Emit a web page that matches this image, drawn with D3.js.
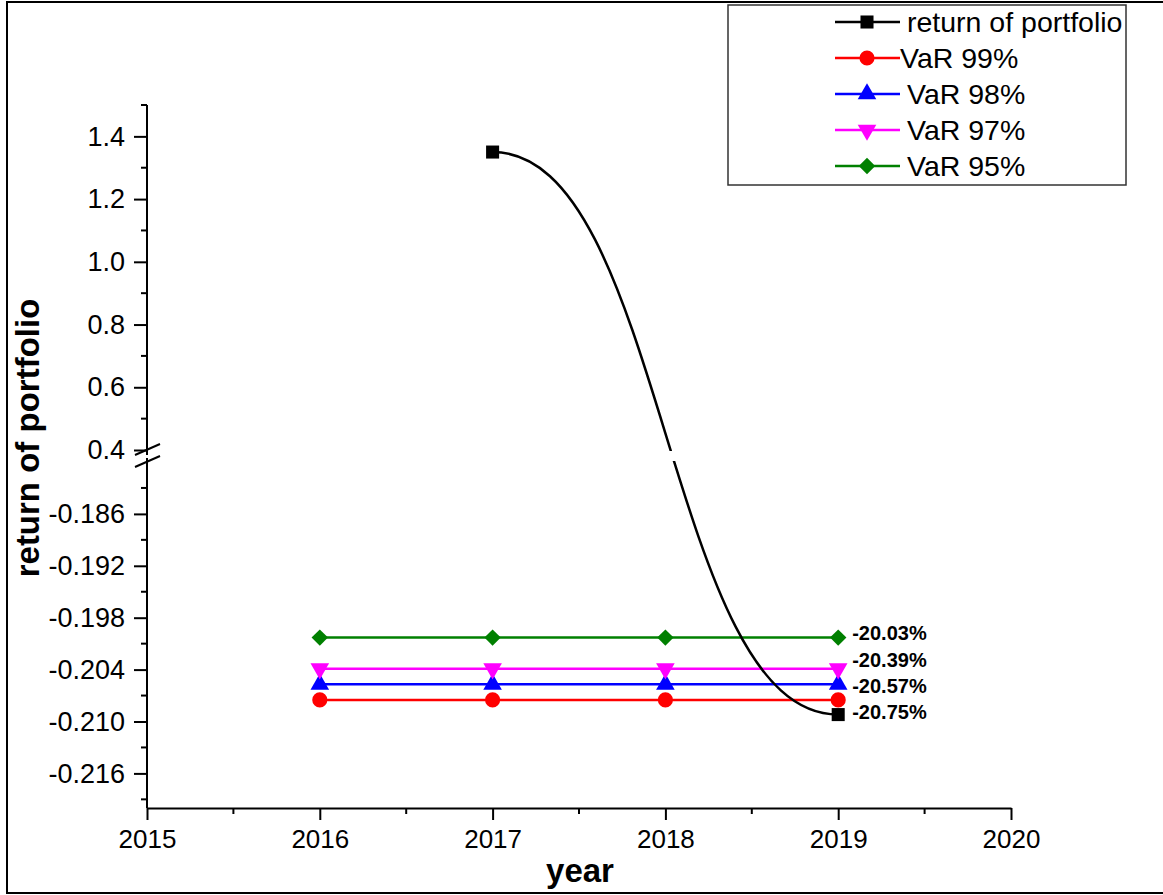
<!DOCTYPE html>
<html>
<head>
<meta charset="utf-8">
<script src="https://cdn.jsdelivr.net/npm/d3@7"></script>
<style>
  html, body { margin: 0; padding: 0; background: #fff; }
  svg { display: block; font-family: Arial, "Liberation Sans", sans-serif; }
</style>
</head>
<body>
<div id="chart"></div>
<script>
// data
const portfolioYears  = [2017, 2019];
const portfolioValues = [1.35, -0.2092];

const varYears  = [2016, 2017, 2018, 2019];
const varLabels = ['VaR 99%', 'VaR 98%', 'VaR 97%', 'VaR 95%'];
const varValues = [-0.2075, -0.2057, -0.2039, -0.2003];

const xTicks      = [2015, 2016, 2017, 2018, 2019, 2020];
const yTopTicks   = [0.4, 0.6, 0.8, 1.0, 1.2, 1.4];
const yTopMinor   = [0.5, 0.7, 0.9, 1.1, 1.3, 1.5];
const yBotTicks   = [-0.216, -0.210, -0.204, -0.198, -0.192, -0.186];
const yBotMinor   = [-0.219, -0.213, -0.207, -0.201, -0.195, -0.189, -0.183];

const width = 1163, height = 895;

const colors  = { portfolio: '#000000', 'VaR 99%': '#ff0000', 'VaR 98%': '#0000ff', 'VaR 97%': '#ff00ff', 'VaR 95%': '#008000' };
const symbols = {
  portfolio: { type: d3.symbolSquare,   size: 170, rot: 0 },
  'VaR 99%': { type: d3.symbolCircle,   size: 180, rot: 0 },
  'VaR 98%': { type: d3.symbolTriangle, size: 150, rot: 0 },
  'VaR 97%': { type: d3.symbolTriangle, size: 150, rot: 180 },
  'VaR 95%': { type: d3.symbolSquare,   size: 135, rot: 45 }
};
// annotation nudges (px) so labels don't collide, same order as varLabels
const labelNudge = [12, 2, -9, -5];

const loc = d3.formatLocale({ decimal: '.', thousands: ',', grouping: [3], currency: ['$', ''], minus: '-' });
const fmtPct = loc.format('.2%');

const svg = d3.select('#chart').append('svg')
  .attr('width', width)
  .attr('height', height);

// outer frame
svg.append('rect')
  .attr('x', 7).attr('y', 2)
  .attr('width', width + 10).attr('height', 891)
  .attr('fill', 'none')
  .attr('stroke', '#000')
  .attr('stroke-width', 2);

const x = d3.scaleLinear().domain([2015, 2020]).range([147, 1011]);
// broken y axis: two segments
const yTop = d3.scaleLinear().domain([0.4, 1.5]).range([450, 105]);
const yBot = d3.scaleLinear().domain([-0.22, -0.18]).range([808, 462]);
const y = d3.scaleLinear().domain([-0.22, -0.18, 0.4, 1.5]).range([808, 462, 450, 105]);

// axes
const axisStyle = (g, fs) => {
  g.selectAll('path, line').attr('stroke', '#000').attr('stroke-width', 2);
  g.selectAll('text').attr('font-size', fs).attr('fill', '#000').attr('font-family', 'Arial, "Liberation Sans", sans-serif');
};

const yTopG = svg.append('g').attr('transform', `translate(${x(2015)},0)`);
yTopG.call(d3.axisLeft(yTop).tickValues(yTopTicks).tickFormat(d3.format('.1f')).tickSize(13).tickPadding(9).tickSizeOuter(0));
yTopG.call(axisStyle, 27);
yTopG.select('.domain').attr('d', `M0,${yTop(1.5)}V455`);

const yBotG = svg.append('g').attr('transform', `translate(${x(2015)},0)`);
yBotG.call(d3.axisLeft(yBot).tickValues(yBotTicks).tickFormat(loc.format('.3f')).tickSize(13).tickPadding(9).tickSizeOuter(0));
yBotG.call(axisStyle, 27);
yBotG.select('.domain').attr('d', `M0,458V${yBot(-0.22)}`);

// minor y ticks
svg.append('g').selectAll('line')
  .data(yTopMinor.map(v => yTop(v)).concat(yBotMinor.map(v => yBot(v))))
  .join('line')
  .attr('x1', x(2015) - 6).attr('x2', x(2015))
  .attr('y1', d => d).attr('y2', d => d)
  .attr('stroke', '#000').attr('stroke-width', 2);

// break marks
svg.append('g').selectAll('line')
  .data([0, 12])
  .join('line')
  .attr('x1', x(2015) - 12).attr('x2', x(2015) + 13)
  .attr('y1', d => 455 + d).attr('y2', d => 444 + d)
  .attr('stroke', '#000').attr('stroke-width', 2);

const xAxisG = svg.append('g').attr('transform', `translate(0,${yBot(-0.22)})`);
xAxisG.call(d3.axisBottom(x).tickValues(xTicks).tickFormat(d3.format('d')).tickSize(12).tickPadding(10).tickSizeOuter(0));
xAxisG.call(axisStyle, 26);

svg.append('g').selectAll('line')
  .data(d3.range(2015.5, 2020, 1))
  .join('line')
  .attr('x1', d => x(d)).attr('x2', d => x(d))
  .attr('y1', yBot(-0.22)).attr('y2', yBot(-0.22) + 6)
  .attr('stroke', '#000').attr('stroke-width', 2);

// axis titles
svg.append('text')
  .attr('x', 580).attr('y', 882)
  .attr('text-anchor', 'middle')
  .attr('font-size', 33).attr('font-weight', 'bold')
  .text('year');

svg.append('text')
  .attr('transform', 'rotate(-90)')
  .attr('x', -438).attr('y', 39)
  .attr('text-anchor', 'middle')
  .attr('font-size', 33).attr('font-weight', 'bold')
  .text('return of portfolio');

// clip so the curve is hidden inside the axis break
const clip = svg.append('defs').append('clipPath').attr('id', 'brk');
clip.append('rect').attr('x', 0).attr('y', 0).attr('width', width).attr('height', 451);
clip.append('rect').attr('x', 0).attr('y', 461).attr('width', width).attr('height', height - 461);

const symbolPath = key => d3.symbol().type(symbols[key].type).size(symbols[key].size)();

// VaR series
varLabels.forEach((lab, i) => {
  const pts = varYears.map(yr => [yr, varValues[i]]);
  svg.append('path')
    .attr('fill', 'none')
    .attr('stroke', colors[lab])
    .attr('stroke-width', 2.5)
    .attr('d', d3.line().x(d => x(d[0])).y(d => y(d[1]))(pts));
  svg.append('g').selectAll('path')
    .data(pts)
    .join('path')
    .attr('d', symbolPath(lab))
    .attr('transform', d => `translate(${x(d[0])},${y(d[1])}) rotate(${symbols[lab].rot})`)
    .attr('fill', colors[lab]);
  svg.append('text')
    .attr('x', x(2019) + 14)
    .attr('y', y(varValues[i]) + labelNudge[i])
    .attr('dy', '0.35em')
    .attr('font-size', 20).attr('font-weight', 'bold')
    .text(fmtPct(varValues[i]));
});

// portfolio return
const pf = portfolioYears.map((yr, i) => [yr, portfolioValues[i]]);
svg.append('path')
  .attr('clip-path', 'url(#brk)')
  .attr('fill', 'none')
  .attr('stroke', colors.portfolio)
  .attr('stroke-width', 2.5)
  .attr('d', d3.line().curve(d3.curveBumpX).x(d => x(d[0])).y(d => y(d[1]))(pf));
svg.append('g').selectAll('path')
  .data(pf)
  .join('path')
  .attr('d', symbolPath('portfolio'))
  .attr('transform', d => `translate(${x(d[0])},${y(d[1])})`)
  .attr('fill', colors.portfolio);

// legend
const legend = svg.append('g');
legend.append('rect')
  .attr('x', 728).attr('y', 5)
  .attr('width', 398).attr('height', 180)
  .attr('fill', '#fff')
  .attr('stroke', '#333').attr('stroke-width', 1.5);

const legendItems = [{ key: 'portfolio', label: 'return of portfolio' }]
  .concat(varLabels.map(l => ({ key: l, label: l })));
const legendRowY = d3.scaleLinear().domain([0, 4]).range([22, 166]);

const rows = legend.selectAll('g.row')
  .data(legendItems)
  .join('g')
  .attr('class', 'row')
  .attr('transform', (d, i) => `translate(0,${legendRowY(i)})`);
rows.append('line')
  .attr('x1', 835).attr('x2', 900)
  .attr('stroke', d => colors[d.key]).attr('stroke-width', 2.5);
rows.append('path')
  .attr('d', d => symbolPath(d.key))
  .attr('transform', d => `translate(867,0) rotate(${symbols[d.key].rot})`)
  .attr('fill', d => colors[d.key]);
rows.append('text')
  .attr('x', (d, i) => i === 1 ? 900 : 907)
  .attr('dy', '0.35em')
  .attr('font-size', 28.5)
  .text(d => d.label);
</script>
</body>
</html>
